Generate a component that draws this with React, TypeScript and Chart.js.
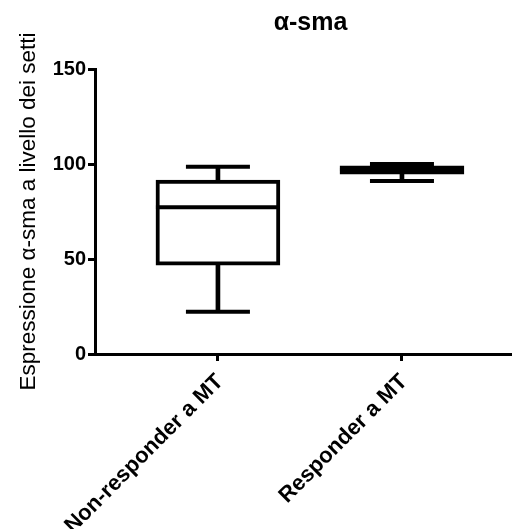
import { useEffect, useRef } from 'react';
import { Chart, registerables } from 'chart.js';

Chart.register(...registerables);

const categories = ['Non-responder a MT', 'Responder a MT'];
const minValues = [22.2, 91.0];
const q1Values = [46.8, 94.7];
const medianValues = [77.2, 97.0];
const q3Values = [91.6, 99.1];
const maxValues = [98.6, 100.0];
const yTicks = [0, 50, 100, 150];

const chartTitle = 'α-sma';
const yTitle = 'Espressione α-sma a livello dei setti';

export default function App() {
  const ref = useRef<HTMLCanvasElement>(null);

  useEffect(() => {
    const family = "'Liberation Sans', Arial, sans-serif";
    const idx = categories.map((_, i) => i);
    const chart = new Chart(ref.current as HTMLCanvasElement, {
      type: 'bar',
      data: {
        datasets: [
          {
            type: 'bar',
            label: 'upper whisker',
            data: idx.map((i) => ({ x: i, y: [q3Values[i], maxValues[i]] })),
            backgroundColor: '#000',
            borderWidth: 0,
            barThickness: 4,
            grouped: false,
            order: 4,
          } as any,
          {
            type: 'bar',
            label: 'lower whisker',
            data: idx.map((i) => ({ x: i, y: [minValues[i], q1Values[i]] })),
            backgroundColor: '#000',
            borderWidth: 0,
            barThickness: 4,
            grouped: false,
            order: 4,
          } as any,
          {
            type: 'bar',
            label: 'box',
            data: idx.map((i) => ({ x: i, y: [q1Values[i], q3Values[i]] })),
            backgroundColor: '#fff',
            borderColor: '#000',
            borderWidth: 4,
            borderSkipped: false,
            barThickness: 124,
            grouped: false,
            order: 3,
          } as any,
          {
            type: 'scatter',
            label: 'median',
            data: idx.map((i) => ({ x: i, y: medianValues[i] })),
            pointStyle: 'line',
            pointRadius: 62,
            pointBorderWidth: 4,
            borderColor: '#000',
            backgroundColor: '#000',
            order: 2,
          } as any,
          {
            type: 'scatter',
            label: 'caps',
            data: [
              ...idx.map((i) => ({ x: i, y: maxValues[i] })),
              ...idx.map((i) => ({ x: i, y: minValues[i] })),
            ],
            pointStyle: 'line',
            pointRadius: 32,
            pointBorderWidth: 4,
            borderColor: '#000',
            backgroundColor: '#000',
            order: 1,
          } as any,
        ],
      },
      options: {
        responsive: false,
        animation: false,
        events: [],
        devicePixelRatio: 1,
        layout: { padding: 0, autoPadding: false },
        plugins: {
          legend: { display: false },
          tooltip: { enabled: false },
          title: {
            display: true,
            text: chartTitle,
            color: '#000',
            fullSize: false,
            font: { family, size: 25, weight: 'bold' },
            padding: { top: 8, bottom: 31 },
          },
        },
        scales: {
          x: {
            type: 'linear',
            min: -0.668,
            max: 1.674,
            offset: false,
            afterBuildTicks: (s: any) => {
              s.ticks = idx.map((v) => ({ value: v }));
            },
            afterFit: (s: any) => {
              s.height = 175;
            },
            ticks: {
              autoSkip: false,
              minRotation: 45,
              maxRotation: 45,
              color: '#000',
              font: { family, size: 22, weight: 'bold' },
              padding: 8,
              labelOffset: 2,
              callback: (v: any) => categories[v] ?? '',
            },
            grid: {
              offset: false,
              drawOnChartArea: false,
              drawTicks: true,
              tickLength: 7,
              lineWidth: 3,
              color: '#000',
            },
            border: { display: true, width: 3, color: '#000' },
          },
          y: {
            type: 'linear',
            min: 0,
            max: 150,
            afterBuildTicks: (s: any) => {
              s.ticks = yTicks.map((v) => ({ value: v }));
            },
            afterFit: (s: any) => {
              s.width = 95;
            },
            ticks: {
              color: '#000',
              font: { family, size: 20, weight: 'bold' },
              padding: 2,
            },
            grid: {
              drawOnChartArea: false,
              drawTicks: true,
              tickLength: 7,
              lineWidth: 3,
              color: '#000',
            },
            border: { display: true, width: 3, color: '#000' },
            title: {
              display: true,
              text: yTitle,
              color: '#000',
              font: { family, size: 22.5, weight: 'normal' },
              padding: { top: 15, bottom: 0 },
            },
          },
        },
      } as any,
    });
    return () => chart.destroy();
  }, []);

  return (
    <div
      style={{
        position: 'absolute',
        left: 0,
        top: 0,
        width: 512,
        height: 529,
        overflow: 'hidden',
        background: '#fff',
      }}
    >
      <canvas ref={ref} width={526} height={529} style={{ display: 'block' }} />
    </div>
  );
}
